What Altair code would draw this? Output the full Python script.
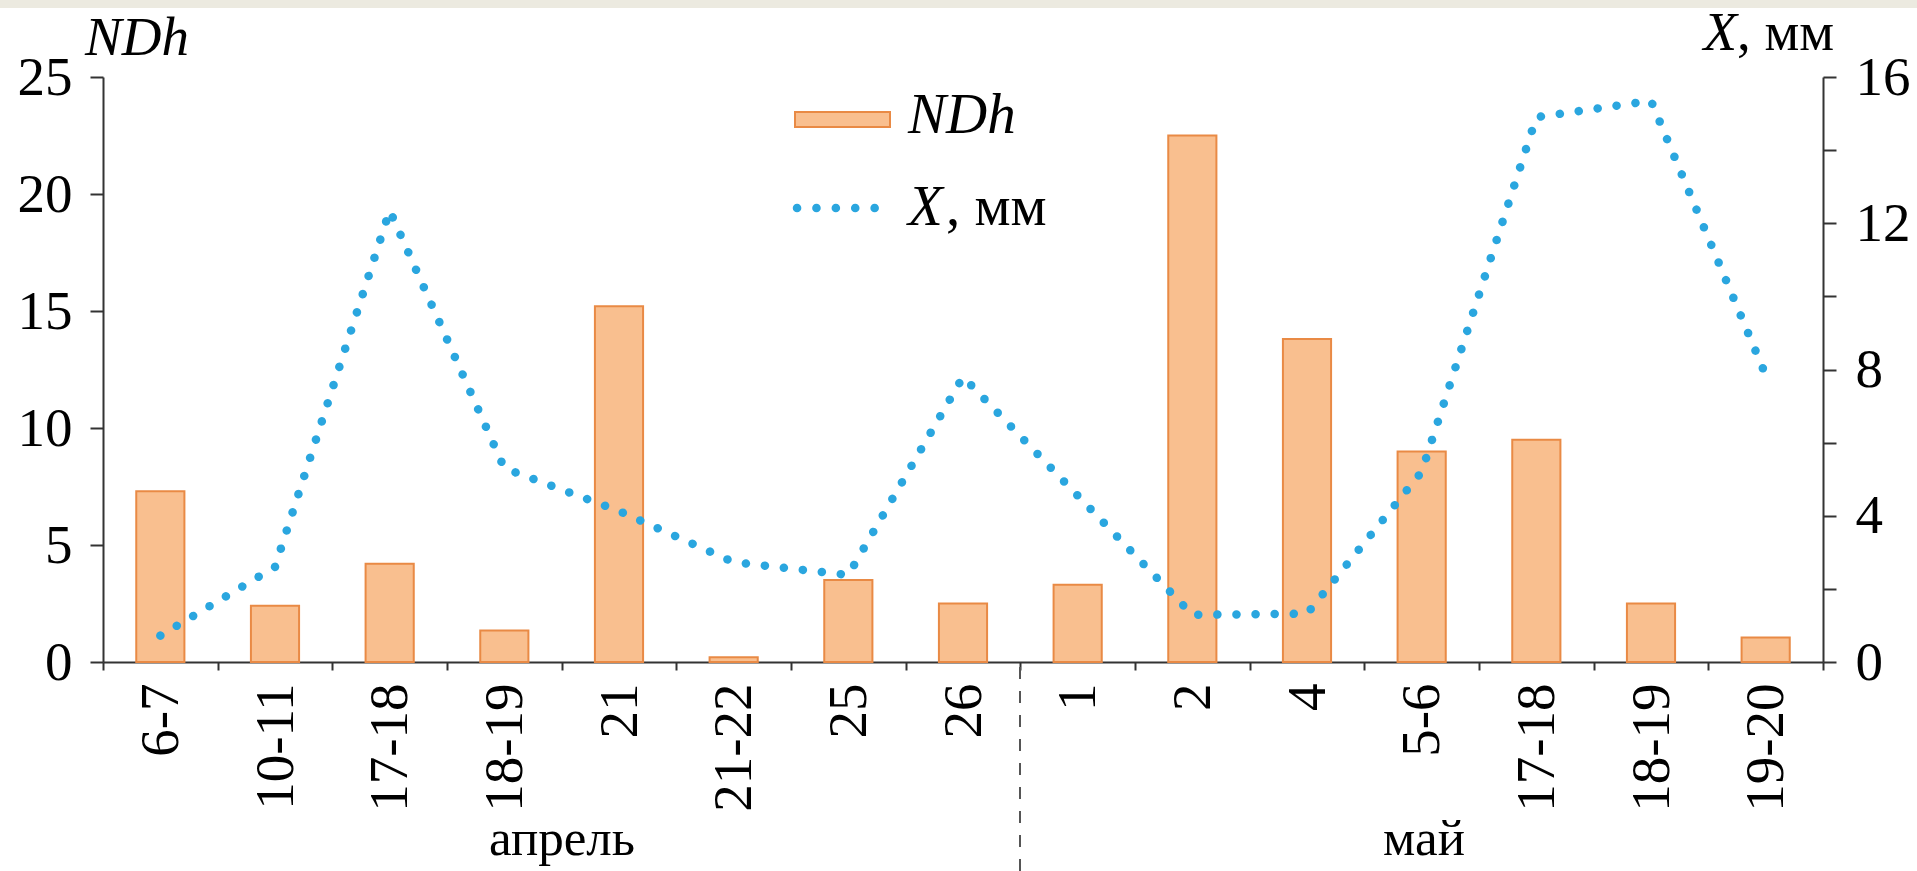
import altair as alt
import pandas as pd

# ---- data ----
labels = ["6-7", "10-11", "17-18", "18-19", "21", "21-22", "25", "26",
          "1", "2", "4", "5-6", "17-18", "18-19", "19-20"]
ndh = [7.3, 2.4, 4.2, 1.35, 15.2, 0.2, 3.5, 2.5,
       3.3, 22.5, 13.8, 9.0, 9.5, 2.5, 1.05]
x_mm = [0.72, 2.6, 12.35, 5.3, 4.13, 2.73, 2.38, 7.8,
        4.55, 1.29, 1.32, 5.2, 14.9, 15.35, 7.85]
months = ["апрель", "май"]
left_ticks = [0, 5, 10, 15, 20, 25]
right_ticks = [0, 2, 4, 6, 8, 10, 12, 14, 16]

keys = [f"{i:02d}" for i in range(len(labels))]
df = pd.DataFrame({"key": keys, "label": labels, "ndh": ndh, "x": x_mm})

FONT = "Liberation Serif"
BAR_FILL = "#F9BF8F"
BAR_STROKE = "#E98A45"
DOT = "#2AA6DF"
AX = "#333333"

label_expr = "[" + ",".join(f"'{l}'" for l in labels) + "][toNumber(datum.value)]"

xscale = alt.Scale(paddingInner=0, paddingOuter=0)
xaxis = alt.Axis(title=None, tickBand="extent", tickSize=8, tickWidth=2,
                 tickColor=AX, domainColor=AX, domainWidth=2,
                 labelAngle=270, labelAlign="right", labelBaseline="middle",
                 labelPadding=13, labelFontSize=55, labelFont=FONT,
                 labelColor="#000", labelExpr=label_expr)

bars = alt.Chart(df).mark_bar(
    width=alt.RelativeBandSize(0.42), fill=BAR_FILL, stroke=BAR_STROKE, strokeWidth=2
).encode(
    x=alt.X("key:N", scale=xscale, sort=keys, axis=xaxis),
    y=alt.Y("ndh:Q", scale=alt.Scale(domain=[0, 25], nice=False),
            axis=alt.Axis(title=None, values=left_ticks, tickSize=13, tickWidth=2,
                          tickColor=AX, domainColor=AX, domainWidth=2, grid=False,
                          labelPadding=18, labelFontSize=55, labelFont=FONT,
                          labelColor="#000")),
)

line = alt.Chart(df).mark_line(
    color=DOT, strokeWidth=8.5, strokeDash=[0.1, 19], strokeCap="round"
).encode(
    x=alt.X("key:N", scale=xscale, sort=keys, axis=xaxis),
    y=alt.Y("x:Q", scale=alt.Scale(domain=[0, 16], nice=False),
            axis=alt.Axis(title=None, orient="right", values=right_ticks,
                          tickSize=13, tickWidth=2, tickColor=AX, domainColor=AX,
                          domainWidth=2, grid=False, labelPadding=19,
                          labelFontSize=55, labelFont=FONT, labelColor="#000",
                          labelExpr="datum.value % 4 == 0 ? datum.label : ''")),
)

base = alt.Chart(pd.DataFrame({"a": [0]}))

def txt(s, x, y, size, italic=False, align="left"):
    return base.mark_text(text=s, font=FONT, fontSize=size,
                          fontStyle="italic" if italic else "normal",
                          align=align, baseline="alphabetic", color="#000").encode(
        x=alt.value(x), y=alt.value(y))

top_band = base.mark_rect(color="#ECEAE0").encode(
    x=alt.value(-103), x2=alt.value(1814), y=alt.value(-77), y2=alt.value(-69))

sep = base.mark_rule(color="#555555", strokeWidth=2, strokeDash=[12, 12]).encode(
    x=alt.value(917), y=alt.value(590), y2=alt.value(794))

leg_rect = base.mark_rect(fill=BAR_FILL, stroke=BAR_STROKE, strokeWidth=2).encode(
    x=alt.value(692), x2=alt.value(787), y=alt.value(35), y2=alt.value(50))
leg_dots = base.mark_rule(color=DOT, strokeWidth=8.5, strokeDash=[0.1, 19.3],
                          strokeCap="round").encode(
    x=alt.value(694), x2=alt.value(772), y=alt.value(131))

texts = [
    txt("NDh", -18, -22, 55, italic=True),
    txt("X", 1634, -27, 55, italic=True, align="right"),
    txt(", мм", 1634, -27, 55),
    txt("NDh", 805, 56, 57, italic=True),
    txt("X", 805, 148, 57, italic=True),
    txt(", мм", 843, 148, 57),
    txt(months[0], 459, 778, 51, align="center"),
    txt(months[1], 1321, 778, 51, align="center"),
]

chart = alt.layer(bars, line, top_band, sep, leg_rect, leg_dots, *texts).resolve_scale(
    y="independent"
).properties(
    width=1720, height=585,
    autosize=alt.AutoSizeParams(type="none"),
    padding={"left": 103, "top": 77, "right": 94, "bottom": 209},
    background="white",
).configure_view(stroke=None)

chart.save("out.html", embed_options={"renderer": "svg", "actions": False})
